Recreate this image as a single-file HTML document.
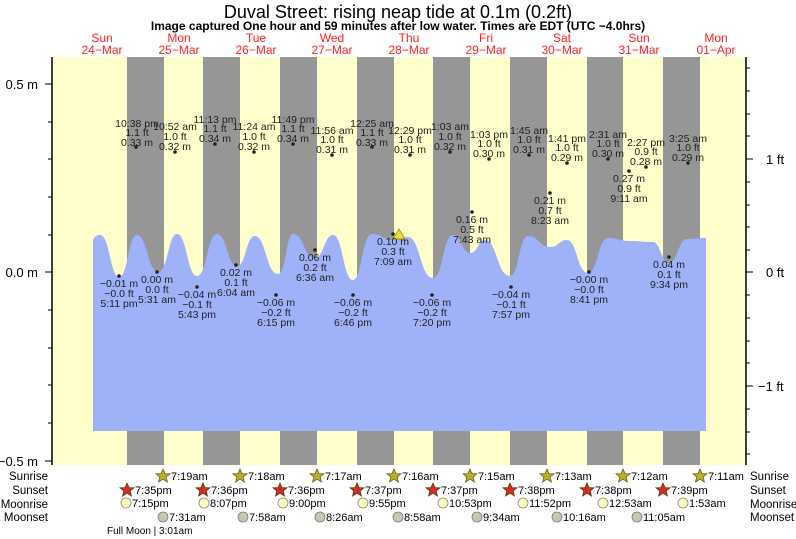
<!DOCTYPE html>
<html><head><meta charset="utf-8"><style>
body{margin:0;background:#fff}
svg{display:block;font-family:"Liberation Sans",sans-serif}
</style></head><body>
<svg width="796" height="539" viewBox="0 0 796 539" xmlns="http://www.w3.org/2000/svg">
<rect x="53" y="57" width="693" height="408" fill="#ffffcc"/>
<g fill="#969696">
<rect x="127" y="57" width="37" height="408"/><rect x="203" y="57" width="37" height="408"/>
<rect x="280" y="57" width="37" height="408"/><rect x="357" y="57" width="37" height="408"/>
<rect x="433" y="57" width="37" height="408"/><rect x="510" y="57" width="37" height="408"/>
<rect x="587" y="57" width="36" height="408"/><rect x="663" y="57" width="37" height="408"/>
</g>
<path fill="#9fb1f9" d="M93,431 L93,240 C95,236 97,235 100,235 C110,235 110,277 119,277 C128,277 128,235 137,235 C147,235 148,272 158,272 C168,272 168,234 177,234 C187,234 187,276 197,276 C207,276 207,234 217,234 C227,234 227,266 237,266 C246,266 246,236 255,236 C266,236 266,274 278,274 C286,274 286,234 293,234 C304,234 304,258 315,258 C324,258 324,235 333,235 C343,235 343,280 353,280 C362,280 362,234 372,234 C382,234 383,240 393,240 C400,240 401,237 408,237 C420,237 420,278 433,278 C443,278 443,235 453,235 C462,235 462,253 470,253 C478,253 478,240 485,240 C497,240 497,276 510,276 C519,276 519,236 528,236 C539,236 539,247 550,247 C559,247 559,240 567,240 C577,240 577,273 588,273 C598,273 598,238 608,238 C619,238 619,241 630,241 C642,241 642,242 653,242 C660,242 662,263 668,263 C678,263 678,239 687,239 C695,239 698,238 706,238 L706,431 Z"/>
<g stroke="#000" stroke-width="1.5">
<line x1="52" y1="57" x2="52" y2="465"/>
<line x1="746" y1="57" x2="746" y2="465"/>
</g>
<g stroke="#000" stroke-width="1">
<line x1="45" y1="84" x2="52" y2="84"/><line x1="45" y1="272" x2="52" y2="272"/><line x1="45" y1="461" x2="52" y2="461"/>
<line x1="48" y1="122" x2="52" y2="122"/><line x1="48" y1="159" x2="52" y2="159"/><line x1="48" y1="197" x2="52" y2="197"/><line x1="48" y1="235" x2="52" y2="235"/>
<line x1="48" y1="310" x2="52" y2="310"/><line x1="48" y1="348" x2="52" y2="348"/><line x1="48" y1="385" x2="52" y2="385"/><line x1="48" y1="423" x2="52" y2="423"/>
<line x1="746" y1="159" x2="753" y2="159"/><line x1="746" y1="272" x2="753" y2="272"/><line x1="746" y1="386" x2="753" y2="386"/>
<line x1="746" y1="68" x2="750" y2="68"/><line x1="746" y1="91" x2="750" y2="91"/><line x1="746" y1="114" x2="750" y2="114"/><line x1="746" y1="136" x2="750" y2="136"/>
<line x1="746" y1="182" x2="750" y2="182"/><line x1="746" y1="205" x2="750" y2="205"/><line x1="746" y1="227" x2="750" y2="227"/><line x1="746" y1="250" x2="750" y2="250"/>
<line x1="746" y1="295" x2="750" y2="295"/><line x1="746" y1="318" x2="750" y2="318"/><line x1="746" y1="341" x2="750" y2="341"/><line x1="746" y1="363" x2="750" y2="363"/>
<line x1="746" y1="409" x2="750" y2="409"/><line x1="746" y1="432" x2="750" y2="432"/><line x1="746" y1="454" x2="750" y2="454"/>
</g>
<g font-size="13" fill="#000">
<text x="38" y="89" text-anchor="end">0.5 m</text>
<text x="38" y="277" text-anchor="end">0.0 m</text>
<text x="38" y="466" text-anchor="end">−0.5 m</text>
<text x="766" y="164">1 ft</text>
<text x="766" y="277">0 ft</text>
<text x="758" y="391">−1 ft</text>
</g>
<text x="398" y="18" font-size="18" text-anchor="middle">Duval Street: rising  neap tide at 0.1m (0.2ft)</text>
<text x="398" y="30" font-size="12" font-weight="bold" text-anchor="middle">Image captured One hour and 59 minutes after low water. Times are EDT (UTC −4.0hrs)</text>
<g fill="#ff2020" font-size="12" text-anchor="middle">
<text x="102" y="42">Sun</text><text x="102" y="54">24−Mar</text>
<text x="179" y="42">Mon</text><text x="179" y="54">25−Mar</text>
<text x="256" y="42">Tue</text><text x="256" y="54">26−Mar</text>
<text x="332" y="42">Wed</text><text x="332" y="54">27−Mar</text>
<text x="409" y="42">Thu</text><text x="409" y="54">28−Mar</text>
<text x="486" y="42">Fri</text><text x="486" y="54">29−Mar</text>
<text x="562" y="42">Sat</text><text x="562" y="54">30−Mar</text>
<text x="639" y="42">Sun</text><text x="639" y="54">31−Mar</text>
<text x="716" y="42">Mon</text><text x="716" y="54">01−Apr</text>
</g>
<polygon points="399,229 393,239 405,239" fill="#e8e030" stroke="#887700" stroke-width="0.7"/>
<g font-size="10.5" fill="#222" text-anchor="middle">
<g><circle cx="136" cy="147" r="1.8"/><text x="137" y="127">10:38 pm</text><text x="137" y="136">1.1 ft</text><text x="137" y="146">0.33 m</text></g>
<g><circle cx="175" cy="152" r="1.8"/><text x="175" y="130">10:52 am</text><text x="175" y="140">1.0 ft</text><text x="175" y="150">0.32 m</text></g>
<g><circle cx="215" cy="144" r="1.8"/><text x="215" y="123">11:13 pm</text><text x="215" y="132">1.1 ft</text><text x="215" y="142">0.34 m</text></g>
<g><circle cx="254" cy="152" r="1.8"/><text x="254" y="130">11:24 am</text><text x="254" y="140">1.0 ft</text><text x="254" y="150">0.32 m</text></g>
<g><circle cx="293" cy="144" r="1.8"/><text x="293" y="123">11:49 pm</text><text x="293" y="132">1.1 ft</text><text x="293" y="142">0.34 m</text></g>
<g><circle cx="332" cy="155" r="1.8"/><text x="332" y="134">11:56 am</text><text x="332" y="143">1.0 ft</text><text x="332" y="153">0.31 m</text></g>
<g><circle cx="372" cy="147" r="1.8"/><text x="372" y="127">12:25 am</text><text x="372" y="136">1.1 ft</text><text x="372" y="146">0.33 m</text></g>
<g><circle cx="410" cy="155" r="1.8"/><text x="410" y="134">12:29 pm</text><text x="410" y="143">1.0 ft</text><text x="410" y="153">0.31 m</text></g>
<g><circle cx="450" cy="152" r="1.8"/><text x="450" y="130">1:03 am</text><text x="450" y="140">1.0 ft</text><text x="450" y="150">0.32 m</text></g>
<g><circle cx="489" cy="159" r="1.8"/><text x="489" y="138">1:03 pm</text><text x="489" y="147">1.0 ft</text><text x="489" y="157">0.30 m</text></g>
<g><circle cx="529" cy="155" r="1.8"/><text x="529" y="134">1:45 am</text><text x="529" y="143">1.0 ft</text><text x="529" y="153">0.31 m</text></g>
<g><circle cx="567" cy="163" r="1.8"/><text x="567" y="142">1:41 pm</text><text x="567" y="151">1.0 ft</text><text x="567" y="161">0.29 m</text></g>
<g><circle cx="608" cy="159" r="1.8"/><text x="608" y="138">2:31 am</text><text x="608" y="147">1.0 ft</text><text x="608" y="157">0.30 m</text></g>
<g><circle cx="646" cy="167" r="1.8"/><text x="646" y="146">2:27 pm</text><text x="646" y="155">0.9 ft</text><text x="646" y="165">0.28 m</text></g>
<g><circle cx="688" cy="163" r="1.8"/><text x="688" y="142">3:25 am</text><text x="688" y="151">1.0 ft</text><text x="688" y="161">0.29 m</text></g>
<g><circle cx="119" cy="276" r="1.8"/><text x="119" y="287">−0.01 m</text><text x="119" y="297">−0.0 ft</text><text x="119" y="307">5:11 pm</text></g>
<g><circle cx="157" cy="272" r="1.8"/><text x="157" y="283">0.00 m</text><text x="157" y="293">0.0 ft</text><text x="157" y="303">5:31 am</text></g>
<g><circle cx="197" cy="287" r="1.8"/><text x="197" y="298">−0.04 m</text><text x="197" y="308">−0.1 ft</text><text x="197" y="318">5:43 pm</text></g>
<g><circle cx="236" cy="265" r="1.8"/><text x="236" y="276">0.02 m</text><text x="236" y="286">0.1 ft</text><text x="236" y="296">6:04 am</text></g>
<g><circle cx="276" cy="295" r="1.8"/><text x="276" y="306">−0.06 m</text><text x="276" y="316">−0.2 ft</text><text x="276" y="326">6:15 pm</text></g>
<g><circle cx="315" cy="250" r="1.8"/><text x="315" y="261">0.06 m</text><text x="315" y="271">0.2 ft</text><text x="315" y="281">6:36 am</text></g>
<g><circle cx="353" cy="295" r="1.8"/><text x="353" y="306">−0.06 m</text><text x="353" y="316">−0.2 ft</text><text x="353" y="326">6:46 pm</text></g>
<g><circle cx="393" cy="234" r="1.8"/><text x="393" y="245">0.10 m</text><text x="393" y="255">0.3 ft</text><text x="393" y="265">7:09 am</text></g>
<g><circle cx="432" cy="295" r="1.8"/><text x="432" y="306">−0.06 m</text><text x="432" y="316">−0.2 ft</text><text x="432" y="326">7:20 pm</text></g>
<g><circle cx="472" cy="212" r="1.8"/><text x="472" y="223">0.16 m</text><text x="472" y="233">0.5 ft</text><text x="472" y="243">7:43 am</text></g>
<g><circle cx="511" cy="287" r="1.8"/><text x="511" y="298">−0.04 m</text><text x="511" y="308">−0.1 ft</text><text x="511" y="318">7:57 pm</text></g>
<g><circle cx="550" cy="193" r="1.8"/><text x="550" y="204">0.21 m</text><text x="550" y="214">0.7 ft</text><text x="550" y="224">8:23 am</text></g>
<g><circle cx="589" cy="272" r="1.8"/><text x="589" y="283">−0.00 m</text><text x="589" y="293">−0.0 ft</text><text x="589" y="303">8:41 pm</text></g>
<g><circle cx="629" cy="171" r="1.8"/><text x="629" y="182">0.27 m</text><text x="629" y="192">0.9 ft</text><text x="629" y="202">9:11 am</text></g>
<g><circle cx="669" cy="257" r="1.8"/><text x="669" y="268">0.04 m</text><text x="669" y="278">0.1 ft</text><text x="669" y="288">9:34 pm</text></g>
</g>
<g font-size="11.5" fill="#000">
<text x="48" y="480" text-anchor="end">Sunrise</text><text x="48" y="494" text-anchor="end">Sunset</text>
<text x="48" y="508" text-anchor="end">Moonrise</text><text x="48" y="521" text-anchor="end">Moonset</text>
<text x="750" y="480">Sunrise</text><text x="750" y="494">Sunset</text>
<text x="750" y="508">Moonrise</text><text x="750" y="521">Moonset</text>
</g>
<defs>
<polygon id="st" points="0,-7 2,-2.3 7,-2.2 3.2,1 4.4,6 0,3.2 -4.4,6 -3.2,1 -7,-2.2 -2,-2.3"/>
</defs>
<g fill="#b8b030" stroke="#6a6010" stroke-width="0.8">
<use href="#st" x="163" y="476"/><use href="#st" x="240" y="476"/><use href="#st" x="317" y="476"/><use href="#st" x="394" y="476"/>
<use href="#st" x="470" y="476"/><use href="#st" x="547" y="476"/><use href="#st" x="623" y="476"/><use href="#st" x="700" y="476"/>
</g>
<g fill="#d03020" stroke="#6a3010" stroke-width="0.8">
<use href="#st" x="127" y="490"/><use href="#st" x="203" y="490"/><use href="#st" x="280" y="490"/><use href="#st" x="357" y="490"/>
<use href="#st" x="433" y="490"/><use href="#st" x="510" y="490"/><use href="#st" x="587" y="490"/><use href="#st" x="663" y="490"/>
</g>
<g fill="#ffffc0" stroke="#888" stroke-width="0.8">
<circle cx="126" cy="503" r="5"/><circle cx="204" cy="503" r="5"/><circle cx="283" cy="503" r="5"/><circle cx="363" cy="503" r="5"/>
<circle cx="443" cy="503" r="5"/><circle cx="523" cy="503" r="5"/><circle cx="603" cy="503" r="5"/><circle cx="683" cy="503" r="5"/>
</g>
<g fill="#c8c8b0" stroke="#777" stroke-width="0.8">
<circle cx="163" cy="517" r="5"/><circle cx="243" cy="517" r="5"/><circle cx="320" cy="517" r="5"/><circle cx="398" cy="517" r="5"/>
<circle cx="477" cy="517" r="5"/><circle cx="557" cy="517" r="5"/><circle cx="637" cy="517" r="5"/>
</g>
<g font-size="11" fill="#000">
<text x="171" y="480">7:19am</text><text x="248" y="480">7:18am</text><text x="325" y="480">7:17am</text><text x="402" y="480">7:16am</text>
<text x="478" y="480">7:15am</text><text x="555" y="480">7:13am</text><text x="631" y="480">7:12am</text><text x="708" y="480">7:11am</text>
<text x="135" y="494">7:35pm</text><text x="211" y="494">7:36pm</text><text x="288" y="494">7:36pm</text><text x="365" y="494">7:37pm</text>
<text x="441" y="494">7:37pm</text><text x="518" y="494">7:38pm</text><text x="595" y="494">7:38pm</text><text x="671" y="494">7:39pm</text>
<text x="132" y="507">7:15pm</text><text x="210" y="507">8:07pm</text><text x="289" y="507">9:00pm</text><text x="369" y="507">9:55pm</text>
<text x="449" y="507">10:53pm</text><text x="529" y="507">11:52pm</text><text x="609" y="507">12:53am</text><text x="689" y="507">1:53am</text>
<text x="169" y="521">7:31am</text><text x="249" y="521">7:58am</text><text x="326" y="521">8:26am</text><text x="404" y="521">8:58am</text>
<text x="483" y="521">9:34am</text><text x="563" y="521">10:16am</text><text x="643" y="521">11:05am</text>
<text x="107" y="534" font-size="10">Full Moon | 3:01am</text>
</g>
</svg>
</body></html>
